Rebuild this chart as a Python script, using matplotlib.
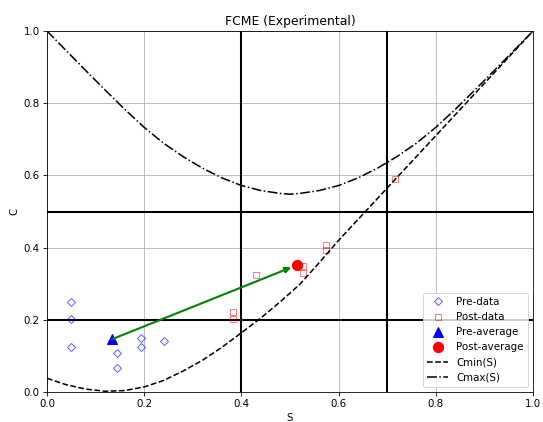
import matplotlib
matplotlib.use('Agg')
import matplotlib.pyplot as plt

# pre / post measurements
pre_s = [0.05, 0.05, 0.05, 0.145, 0.145, 0.193, 0.193, 0.241]
pre_c = [0.250, 0.201, 0.125, 0.109, 0.066, 0.150, 0.125, 0.142]
post_s = [0.383, 0.383, 0.431, 0.527, 0.527, 0.574, 0.574, 0.717]
post_c = [0.222, 0.201, 0.323, 0.349, 0.329, 0.407, 0.393, 0.589]

# bounds
cmin_s = [0.0, 0.04, 0.08, 0.12, 0.16, 0.20, 0.24, 0.28, 0.32, 0.36, 0.40,
          0.44, 0.48, 0.52, 0.56, 0.60, 0.70, 0.80, 0.90, 1.0]
cmin_c = [0.038, 0.020, 0.008, 0.002, 0.004, 0.014, 0.032, 0.058, 0.088, 0.124, 0.164,
          0.205, 0.250, 0.298, 0.358, 0.420, 0.565, 0.710, 0.855, 1.0]
cmax_s = [0.0, 0.04, 0.08, 0.12, 0.16, 0.20, 0.24, 0.28, 0.32, 0.36, 0.40, 0.44, 0.48,
          0.50, 0.52, 0.56, 0.60, 0.64, 0.68, 0.72, 0.76, 0.80, 0.84, 0.88, 0.92, 0.96, 1.0]
cmax_c = [1.0, 0.945, 0.890, 0.836, 0.783, 0.733, 0.689, 0.652, 0.620, 0.593, 0.572, 0.558, 0.550,
          0.548, 0.550, 0.558, 0.572, 0.593, 0.620, 0.652, 0.689, 0.733, 0.783, 0.836, 0.890, 0.945, 1.0]

s_lines = [0.4, 0.7]
c_lines = [0.2, 0.5]

pre_avg = (sum(pre_s) / len(pre_s), sum(pre_c) / len(pre_c))
post_avg = (sum(post_s) / len(post_s), sum(post_c) / len(post_c))

dpi = 74
fig = plt.figure(figsize=(543 / dpi, 422 / dpi), dpi=dpi)
ax = fig.add_axes([47 / 543, 30 / 422, 486 / 543, 361 / 422])

ax.grid(True)
for s in s_lines:
    ax.axvline(s, color='k', lw=2)
for c in c_lines:
    ax.axhline(c, color='k', lw=2)

ax.plot(pre_s, pre_c, 'D', mfc='none', mec='b', alpha=0.6, label='Pre-data')
ax.plot(post_s, post_c, 's', mfc='none', mec='r', alpha=0.5, label='Post-data')
ax.plot(*pre_avg, 'b^', ms=10, label='Pre-average')
ax.plot(*post_avg, 'ro', ms=10, label='Post-average')
ax.annotate('', xy=post_avg, xytext=pre_avg,
            arrowprops=dict(arrowstyle='-|>', color='green', lw=2,
                            shrinkA=0, shrinkB=6, mutation_scale=12))
ax.plot(cmin_s, cmin_c, 'k--', label='Cmin(S)')
ax.plot(cmax_s, cmax_c, 'k-.', label='Cmax(S)')

ax.set_xlim(0, 1)
ax.set_ylim(0, 1)
ax.set_title("FCME (Experimental)")
ax.set_xlabel("S")
ax.set_ylabel("C")
ax.legend(loc='lower right')

plt.savefig("out.png", dpi=dpi)
plt.close()
